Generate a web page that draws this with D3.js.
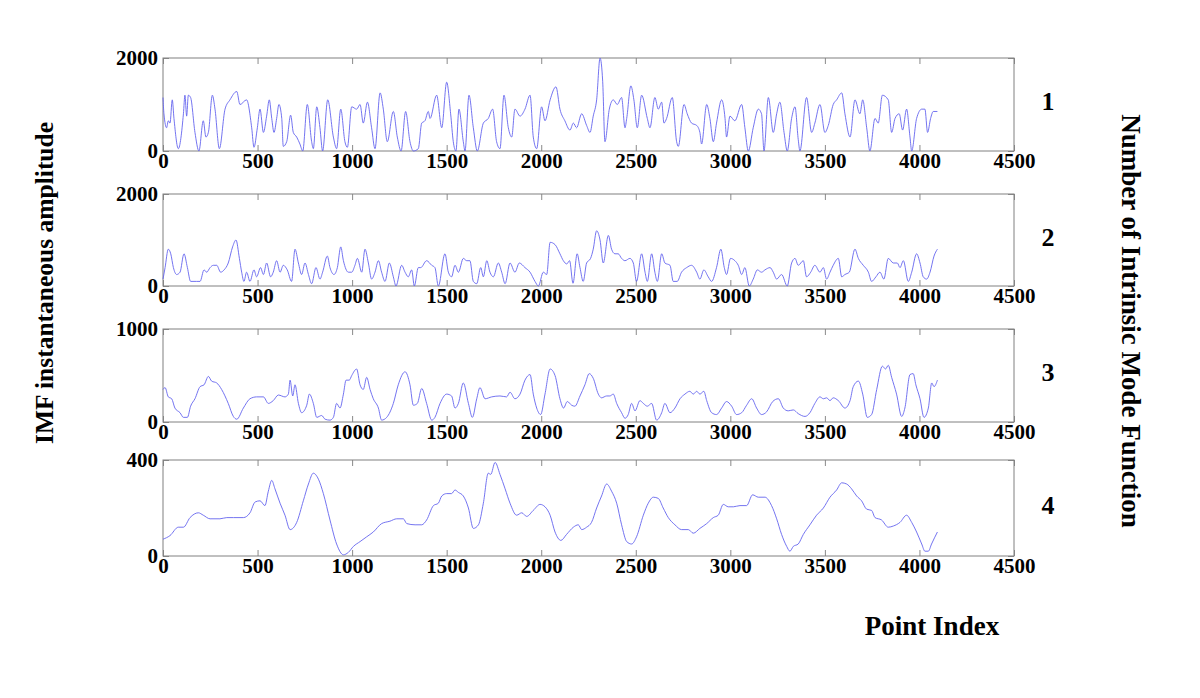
<!DOCTYPE html>
<html>
<head>
<meta charset="utf-8">
<script src="https://cdn.jsdelivr.net/npm/d3@7"></script>
<style>
  body { margin: 0; background: #fff; }
  svg text { font-family: "Liberation Serif", "Times New Roman", serif; font-weight: bold; fill: #000; }
</style>
</head>
<body>
<div id="chart"></div>
<script>
// tick labels and panel names
const xTicks = [0, 500, 1000, 1500, 2000, 2500, 3000, 3500, 4000, 4500];
const panelNames = ["1", "2", "3", "4"];
const yMaxes = [2000, 2000, 1000, 400];

// IMF instantaneous amplitude, [point index, amplitude]
const imf1 = [
  [0,1150],[5,800],[19,500],[28,650],[37,600],[49,1100],[58,700],[81,50],[108,800],[116,1200],
  [125,750],[134,1200],[146,1150],[169,400],[190,0],[213,650],[227,300],[240,400],[261,1200],[275,900],
  [298,50],[328,900],[354,1100],[390,1280],[407,1000],[442,1100],[469,500],[481,80],[499,500],[513,900],
  [531,400],[548,750],[562,1100],[575,700],[587,400],[601,700],[613,1000],[628,700],[636,100],[654,200],
  [675,770],[689,400],[707,300],[724,150],[739,0],[763,1000],[786,200],[795,50],[813,950],[830,500],
  [844,0],[871,1100],[901,300],[918,50],[940,900],[962,200],[975,80],[998,950],[1024,900],[1042,1000],
  [1059,600],[1081,1050],[1103,500],[1121,50],[1148,1250],[1165,900],[1186,200],[1218,850],[1239,300],[1259,0],
  [1283,850],[1306,200],[1324,0],[1350,50],[1368,600],[1385,650],[1403,850],[1412,700],[1447,1200],[1474,500],
  [1500,1480],[1521,800],[1535,200],[1549,0],[1565,900],[1588,200],[1597,0],[1618,1200],[1641,500],[1662,0],
  [1694,600],[1720,700],[1743,900],[1764,200],[1782,50],[1803,1200],[1826,500],[1844,300],[1861,900],[1888,750],
  [1914,900],[1941,1200],[1958,300],[1976,50],[2002,950],[2020,650],[2047,1100],[2078,1380],[2099,900],[2125,650],
  [2152,450],[2170,600],[2187,500],[2214,800],[2240,550],[2258,400],[2275,750],[2293,1100],[2311,2000],[2325,1500],
  [2337,200],[2360,900],[2381,1100],[2402,1000],[2425,1150],[2443,500],[2452,700],[2474,1400],[2490,1100],[2508,500],
  [2531,1200],[2561,700],[2575,500],[2601,1150],[2619,900],[2637,1050],[2649,600],[2663,700],[2693,1150],[2716,200],
  [2725,100],[2755,1000],[2772,800],[2795,600],[2822,550],[2839,400],[2848,150],[2875,1000],[2892,700],[2910,200],
  [2927,600],[2954,1100],[2972,700],[2980,300],[2998,750],[3024,650],[3060,1000],[3077,500],[3095,0],[3121,500],
  [3148,900],[3165,800],[3178,0],[3201,1150],[3227,400],[3245,800],[3262,1050],[3284,400],[3301,0],[3324,700],
  [3342,950],[3359,250],[3368,0],[3403,1150],[3430,400],[3447,600],[3474,1000],[3500,400],[3518,550],[3544,1000],
  [3562,1100],[3589,1250],[3606,800],[3633,300],[3659,1100],[3685,800],[3700,1100],[3721,500],[3738,0],[3765,700],
  [3782,600],[3804,1200],[3835,1100],[3853,400],[3871,700],[3893,800],[3911,450],[3932,900],[3950,300],[3959,0],
  [3985,700],[4012,900],[4029,900],[4043,400],[4059,700],[4073,850],[4095,850]
];

const imf2 = [
  [0,150],[11,400],[28,800],[41,700],[55,400],[72,250],[90,300],[111,700],[129,400],[146,100],
  [178,100],[196,100],[217,350],[231,300],[249,400],[266,450],[284,450],[305,300],[323,350],[345,500],
  [368,850],[386,1000],[404,600],[416,300],[428,100],[442,300],[460,100],[481,350],[495,200],[516,400],
  [531,250],[548,500],[569,200],[583,300],[601,550],[619,300],[636,450],[657,350],[680,100],[698,800],
  [716,500],[733,250],[751,500],[769,250],[786,50],[809,400],[830,150],[844,300],[869,650],[883,400],
  [904,250],[922,400],[940,850],[954,550],[980,300],[998,300],[1015,450],[1028,600],[1051,300],[1068,800],
  [1086,500],[1103,150],[1121,300],[1139,550],[1156,300],[1174,100],[1197,500],[1218,200],[1232,0],[1262,450],
  [1280,300],[1297,200],[1315,350],[1329,0],[1350,400],[1363,400],[1394,550],[1421,450],[1438,400],[1456,0],
  [1491,700],[1509,300],[1526,200],[1544,450],[1562,300],[1588,600],[1606,550],[1623,550],[1641,100],[1659,50],
  [1680,400],[1694,200],[1712,550],[1729,300],[1747,200],[1773,500],[1791,300],[1809,50],[1835,500],[1861,300],
  [1884,500],[1914,400],[1941,300],[1967,100],[1985,0],[2011,300],[2029,250],[2047,950],[2073,900],[2099,700],
  [2117,550],[2135,480],[2150,550],[2168,60],[2190,700],[2205,400],[2222,100],[2240,500],[2261,600],[2275,800],
  [2293,1200],[2311,1000],[2328,500],[2355,1100],[2372,800],[2390,700],[2407,700],[2425,600],[2443,550],[2469,600],
  [2487,500],[2504,100],[2531,700],[2549,300],[2561,100],[2584,700],[2601,300],[2614,100],[2637,700],[2654,500],
  [2681,450],[2698,100],[2719,100],[2742,300],[2769,400],[2795,450],[2822,300],[2839,150],[2860,350],[2883,200],
  [2901,100],[2927,400],[2950,800],[2968,400],[2980,250],[3001,600],[3024,550],[3042,450],[3060,250],[3077,400],
  [3100,0],[3121,150],[3143,350],[3165,300],[3183,350],[3210,400],[3227,300],[3245,150],[3271,250],[3301,0],
  [3324,500],[3342,600],[3359,450],[3386,550],[3403,200],[3425,300],[3447,450],[3474,300],[3492,400],[3509,150],
  [3527,300],[3544,450],[3571,600],[3589,200],[3606,250],[3629,300],[3659,800],[3677,600],[3703,450],[3730,300],
  [3747,100],[3770,200],[3791,300],[3812,150],[3835,600],[3862,500],[3883,500],[3897,400],[3915,550],[3941,100],
  [3959,300],[3985,700],[4003,500],[4020,200],[4038,150],[4056,300],[4077,650],[4095,800]
];

const imf3 = [
  [0,350],[11,370],[28,270],[46,250],[63,150],[90,100],[108,50],[129,50],[146,170],[169,250],
  [196,380],[217,400],[240,490],[257,440],[284,420],[310,350],[345,200],[372,60],[390,30],[425,150],
  [460,250],[495,270],[531,270],[557,200],[583,230],[610,290],[645,270],[663,300],[672,450],[686,280],
  [698,400],[716,200],[733,100],[760,180],[774,300],[795,200],[813,50],[839,70],[857,30],[883,20],
  [901,50],[918,200],[936,150],[954,300],[968,450],[985,450],[998,500],[1024,570],[1042,400],[1059,350],
  [1077,480],[1095,350],[1112,250],[1139,150],[1156,20],[1183,50],[1218,200],[1244,400],[1280,540],[1306,400],
  [1324,180],[1345,200],[1368,360],[1394,200],[1421,20],[1438,50],[1465,200],[1500,300],[1526,280],[1544,150],
  [1562,200],[1588,420],[1615,200],[1636,50],[1659,250],[1676,370],[1703,250],[1738,270],[1782,280],[1817,270],
  [1835,320],[1861,250],[1888,300],[1914,450],[1941,510],[1958,300],[1976,150],[1997,80],[2020,300],[2047,570],
  [2073,500],[2099,250],[2118,150],[2138,220],[2161,180],[2178,170],[2205,280],[2231,400],[2254,520],[2275,470],
  [2302,300],[2319,260],[2346,280],[2363,280],[2381,300],[2399,200],[2425,100],[2443,40],[2460,80],[2478,200],
  [2496,120],[2522,230],[2540,200],[2561,170],[2584,200],[2610,20],[2637,100],[2654,200],[2681,100],[2707,150],
  [2734,250],[2760,300],[2786,330],[2804,300],[2822,330],[2839,300],[2860,330],[2875,230],[2901,100],[2927,80],
  [2954,150],[2980,220],[3007,170],[3033,80],[3060,100],[3086,180],[3113,250],[3139,150],[3165,80],[3192,110],
  [3224,220],[3254,250],[3280,150],[3306,120],[3333,130],[3359,90],[3395,60],[3421,100],[3447,200],[3474,270],
  [3492,250],[3509,260],[3527,230],[3544,260],[3571,230],[3606,150],[3633,230],[3650,380],[3677,440],[3700,300],
  [3724,50],[3747,80],[3774,350],[3804,600],[3821,570],[3835,610],[3853,480],[3879,300],[3906,60],[3923,150],
  [3950,510],[3967,520],[3981,400],[4003,250],[4024,50],[4047,150],[4065,420],[4077,380],[4095,450]
];

const imf4 = [
  [0,70],[37,85],[81,120],[108,120],[143,160],[187,180],[213,170],[249,155],[301,155],[337,160],
  [372,160],[425,160],[460,180],[487,225],[513,230],[539,210],[557,270],[575,315],[592,280],[619,220],
  [645,170],[672,110],[707,140],[742,230],[769,300],[795,345],[822,320],[848,260],[883,150],[918,50],
  [954,5],[980,15],[1007,40],[1042,60],[1077,80],[1112,100],[1156,135],[1200,145],[1236,155],[1271,155],
  [1289,135],[1333,130],[1368,130],[1394,150],[1430,210],[1456,220],[1474,250],[1500,260],[1526,260],[1544,275],
  [1562,265],[1588,250],[1615,200],[1641,115],[1668,130],[1694,220],[1720,345],[1733,340],[1756,390],[1782,340],
  [1809,280],[1835,220],[1870,170],[1897,180],[1923,165],[1958,190],[1994,215],[2020,205],[2047,170],[2073,100],
  [2104,65],[2134,90],[2170,120],[2196,130],[2214,110],[2240,120],[2266,140],[2293,200],[2319,250],[2346,300],
  [2372,270],[2399,220],[2425,130],[2452,60],[2478,50],[2504,80],[2540,170],[2566,220],[2593,245],[2619,240],
  [2645,200],[2672,160],[2707,130],[2742,110],[2778,110],[2804,95],[2839,115],[2875,135],[2910,160],[2936,170],
  [2963,215],[2989,205],[3016,205],[3051,210],[3086,210],[3118,255],[3148,245],[3183,245],[3218,210],[3245,155],
  [3271,90],[3298,40],[3315,20],[3333,40],[3359,50],[3386,90],[3421,130],[3456,170],[3492,200],[3527,245],
  [3562,275],[3589,305],[3615,300],[3641,280],[3668,250],[3694,230],[3721,195],[3747,190],[3765,160],[3800,150],
  [3835,120],[3862,125],[3897,140],[3932,170],[3959,140],[3985,100],[4012,50],[4029,20],[4047,20],[4064,50],
  [4095,100]
];

const series = [imf1, imf2, imf3, imf4];

const W = 1200, H = 698;
const left = 163, right = 1014;
const panels = [
  { top: 58, bottom: 151 },
  { top: 194, bottom: 286 },
  { top: 329, bottom: 422 },
  { top: 460, bottom: 556 }
];

const svg = d3.select('#chart')
  .append('svg')
  .attr('width', W)
  .attr('height', H);

const x = d3.scaleLinear().domain([0, 4500]).range([left, right]);
const fmt = d3.format('d');

panels.forEach((p, i) => {
  const y = d3.scaleLinear().domain([0, yMaxes[i]]).range([p.bottom, p.top]);
  const g = svg.append('g');

  // x axis at bottom, ticks pointing in
  g.append('g')
    .attr('transform', `translate(0, ${p.bottom})`)
    .call(d3.axisBottom(x).tickValues(xTicks).tickFormat(fmt).tickSizeInner(-6).tickSizeOuter(0).tickPadding(2))
    .call(a => a.select('.domain').remove())
    .call(a => a.selectAll('line').attr('stroke', '#8a8a8a'))
    .call(a => a.selectAll('text').style('font-size', '21px'));

  // top ticks only
  g.append('g')
    .attr('transform', `translate(0, ${p.top})`)
    .call(d3.axisTop(x).tickValues(xTicks).tickSizeInner(-6).tickSizeOuter(0).tickFormat(''))
    .call(a => a.select('.domain').remove())
    .call(a => a.selectAll('line').attr('stroke', '#8a8a8a'));

  g.append('g')
    .attr('transform', `translate(${left}, 0)`)
    .call(d3.axisLeft(y).tickValues([0, yMaxes[i]]).tickFormat(fmt).tickSizeInner(-6).tickSizeOuter(0).tickPadding(5))
    .call(a => a.select('.domain').remove())
    .call(a => a.selectAll('line').attr('stroke', '#8a8a8a'))
    .call(a => a.selectAll('text').style('font-size', '21px'));

  g.append('g')
    .attr('transform', `translate(${right}, 0)`)
    .call(d3.axisRight(y).tickValues([0, yMaxes[i]]).tickSizeInner(-6).tickSizeOuter(0).tickFormat(''))
    .call(a => a.select('.domain').remove())
    .call(a => a.selectAll('line').attr('stroke', '#8a8a8a'));

  g.append('rect')
    .attr('x', left).attr('y', p.top)
    .attr('width', right - left).attr('height', p.bottom - p.top)
    .attr('fill', 'none')
    .attr('stroke', '#808080')
    .attr('stroke-width', 1);

  const line = d3.line()
    .x(d => x(d[0]))
    .y(d => y(d[1]))
    .curve(d3.curveMonotoneX);

  g.append('path')
    .datum(series[i])
    .attr('d', line)
    .attr('fill', 'none')
    .attr('stroke', '#6464ee')
    .attr('stroke-width', 0.9);

  g.append('text')
    .attr('x', 1048)
    .attr('y', (p.top + p.bottom) / 2 - 3)
    .attr('text-anchor', 'middle')
    .attr('dominant-baseline', 'central')
    .style('font-size', '26px')
    .text(panelNames[i]);
});

svg.append('text')
  .attr('transform', 'translate(44, 283) rotate(-90)')
  .attr('text-anchor', 'middle')
  .attr('dominant-baseline', 'central')
  .style('font-size', '25.5px')
  .text('IMF instantaneous amplitude');

svg.append('text')
  .attr('transform', 'translate(1131, 321) rotate(90)')
  .attr('text-anchor', 'middle')
  .attr('dominant-baseline', 'central')
  .style('font-size', '27px')
  .text('Number of Intrinsic Mode Function');

svg.append('text')
  .attr('x', 932)
  .attr('y', 635)
  .attr('text-anchor', 'middle')
  .style('font-size', '27px')
  .text('Point Index');
</script>
</body>
</html>
